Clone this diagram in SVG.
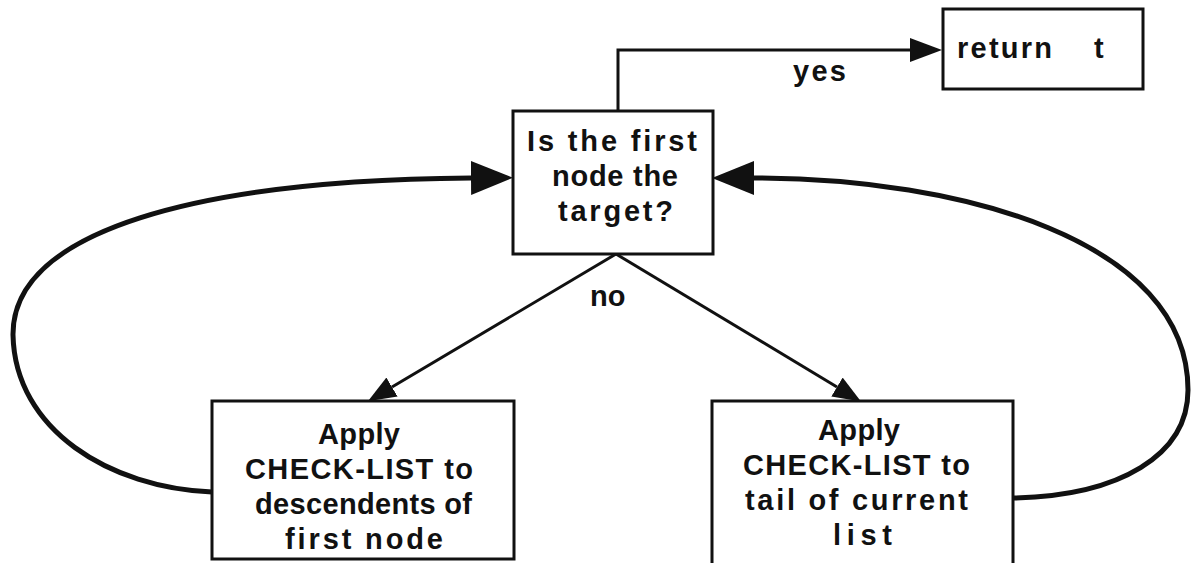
<svg xmlns="http://www.w3.org/2000/svg" width="1191" height="563" viewBox="0 0 1191 563">
<style>
.box{fill:#fff;stroke:#111;stroke-width:3}
.t{font-family:"Liberation Sans",Arial,Helvetica,sans-serif;font-weight:bold;font-size:29px;fill:#111}
.ln{fill:none;stroke:#111;stroke-width:3}
.loop{fill:none;stroke:#111;stroke-width:5}
</style>
<defs>
<marker id="big" markerUnits="userSpaceOnUse" markerWidth="42" markerHeight="34" viewBox="0 0 42 34" refX="0" refY="17" orient="auto"><path d="M0,0 L42,17 L0,34 z" fill="#111"/></marker>
<marker id="mid" markerUnits="userSpaceOnUse" markerWidth="32" markerHeight="24" viewBox="0 0 32 24" refX="0" refY="12" orient="auto"><path d="M0,0 L32,12 L0,24 z" fill="#111"/></marker>
<marker id="small" markerUnits="userSpaceOnUse" markerWidth="28" markerHeight="22" viewBox="0 0 28 22" refX="0" refY="11" orient="auto"><path d="M0,0 L28,11 L0,22 z" fill="#111"/></marker>
</defs>
<rect width="1191" height="563" fill="#fff"/>
<g id="connectors">
<path class="ln" d="M618,111 V50 H910" marker-end="url(#mid)"/>
<path class="ln" d="M616,254 L392,387" marker-end="url(#small)"/>
<path class="ln" d="M616,254 L837,387" marker-end="url(#small)"/>
<path class="loop" d="M212,492 C110,488 15,430 13,335 C12,230 200,180 471,178" marker-end="url(#big)"/>
<path class="loop" d="M1013,498 C1120,496 1188,455 1188,390 C1188,240 960,178 754,178" marker-end="url(#big)"/>
<text class="t" x="793" y="81" textLength="53" lengthAdjust="spacing">yes</text>
<text class="t" x="590" y="306">no</text>
</g>
<g id="node-check">
<rect class="box" x="513" y="111" width="200" height="143"/>
<text class="t" x="527" y="151" textLength="170" lengthAdjust="spacing">Is the first</text>
<text class="t" x="552" y="186" textLength="126" lengthAdjust="spacing">node the</text>
<text class="t" x="558" y="221" textLength="115" lengthAdjust="spacing">target?</text>
</g>
<g id="node-return">
<rect class="box" x="943" y="9" width="200" height="80"/>
<text class="t" y="58"><tspan x="957" textLength="95" lengthAdjust="spacing">return</tspan> <tspan x="1094">t</tspan></text>
</g>
<g id="node-descendents">
<rect class="box" x="212" y="401" width="302" height="158"/>
<text class="t" x="318" y="444" textLength="82" lengthAdjust="spacing">Apply</text>
<text class="t" x="245" y="479" textLength="228" lengthAdjust="spacing">CHECK-LIST to</text>
<text class="t" x="255" y="514" textLength="217" lengthAdjust="spacing">descendents of</text>
<text class="t" x="285" y="549" textLength="158" lengthAdjust="spacing">first node</text>
</g>
<g id="node-tail">
<rect class="box" x="712" y="401" width="301" height="175"/>
<text class="t" x="818" y="440" textLength="82" lengthAdjust="spacing">Apply</text>
<text class="t" x="743" y="475" textLength="227" lengthAdjust="spacing">CHECK-LIST to</text>
<text class="t" x="745" y="510" textLength="223" lengthAdjust="spacing">tail of current</text>
<text class="t" x="833" y="545" textLength="59" lengthAdjust="spacing">list</text>
</g>
</svg>
